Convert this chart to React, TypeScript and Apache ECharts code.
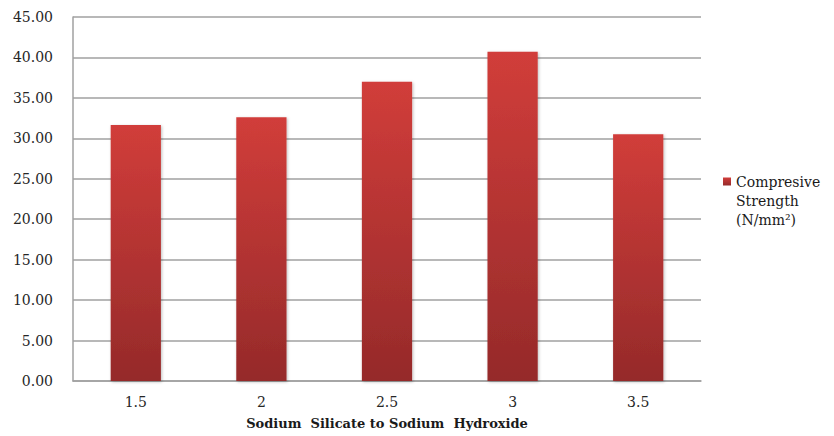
import React, { useEffect, useRef } from "react";
import * as echarts from "echarts";

const categories = ["1.5", "2", "2.5", "3", "3.5"];
const strength = [31.65, 32.6, 37.0, 40.7, 30.5];
const seriesName = "Compresive Strength (N/mm²)";
const xTitle = "Sodium  Silicate to Sodium  Hydroxide";

export default function App() {
  const ref = useRef<HTMLDivElement>(null);
  useEffect(() => {
    if (!ref.current) return;
    const chart = echarts.init(ref.current, null, { renderer: "svg" });
    chart.setOption({
      animation: false,
      backgroundColor: "#ffffff",
      grid: { left: 73, right: 133, top: 17, bottom: 55 },
      legend: {
        data: [seriesName],
        left: 723,
        top: 134,
        padding: 0,
        icon: "rect",
        itemWidth: 8,
        itemHeight: 8,
        itemGap: 5,
        formatter: () => " \n \nCompresive\nStrength\n(N/mm²)",
        textStyle: {
          fontFamily: "DejaVu Serif",
          fontSize: 14,
          color: "#1a1a1a",
          lineHeight: 19,
        },
      },
      xAxis: {
        type: "category",
        data: categories,
        name: xTitle,
        nameLocation: "middle",
        nameGap: 36,
        nameTextStyle: {
          fontFamily: "DejaVu Serif",
          fontSize: 13,
          fontWeight: "bold",
          color: "#1a1a1a",
        },
        axisLine: { lineStyle: { color: "#A0A0A0", width: 1.5 } },
        axisTick: { show: false },
        axisLabel: {
          fontFamily: "DejaVu Serif",
          fontSize: 14,
          color: "#262626",
          margin: 14,
        },
      },
      yAxis: {
        type: "value",
        min: 0,
        max: 45,
        interval: 5,
        axisLine: { show: true, lineStyle: { color: "#A0A0A0", width: 1.5 } },
        axisTick: { show: false },
        splitLine: { lineStyle: { color: "#A0A0A0", width: 1.5 } },
        axisLabel: {
          fontFamily: "DejaVu Serif",
          fontSize: 14,
          color: "#262626",
          margin: 20,
          formatter: (v: number) => v.toFixed(2),
        },
      },
      series: [
        {
          name: seriesName,
          type: "bar",
          data: strength,
          barWidth: "40%",
          itemStyle: {
            color: new echarts.graphic.LinearGradient(0, 0, 0, 1, [
              { offset: 0, color: "#D13D3A" },
              { offset: 1, color: "#952A2A" },
            ]),
            shadowColor: "rgba(0,0,0,0.25)",
            shadowBlur: 3,
            shadowOffsetX: 1,
            shadowOffsetY: 1,
          },
        },
      ],
    });
    return () => chart.dispose();
  }, []);
  return (
    <div
      ref={ref}
      style={{ position: "absolute", left: 0, top: 0, width: 834, height: 436 }}
    />
  );
}
